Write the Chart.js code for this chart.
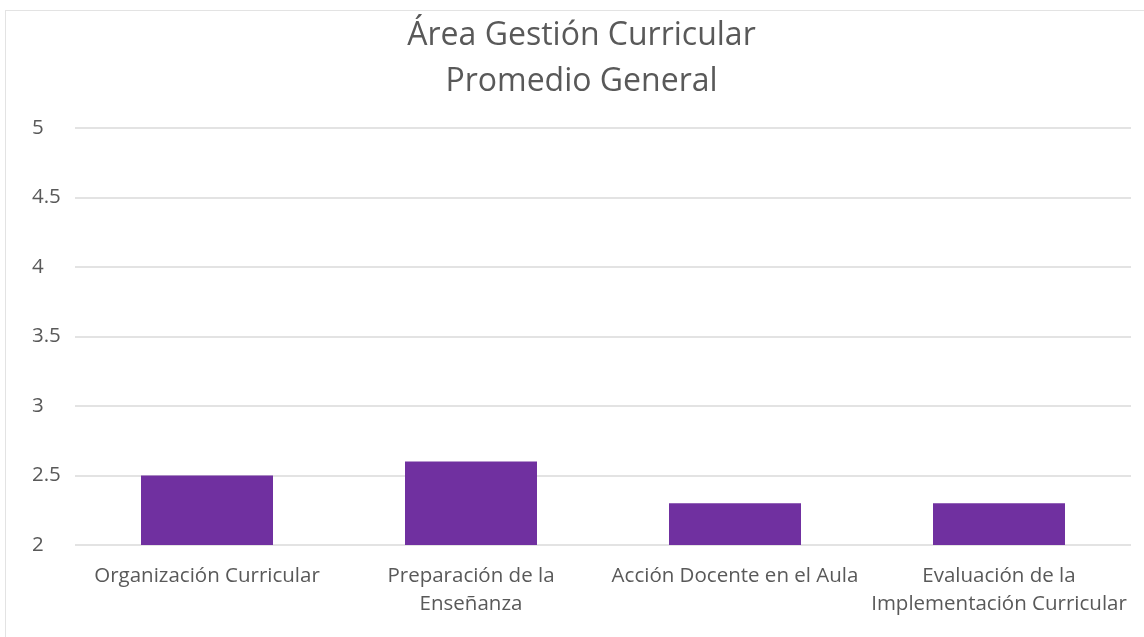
<!DOCTYPE html>
<html lang="es">
<head>
<meta charset="utf-8">
<title>Área Gestión Curricular</title>
<script src="https://cdn.jsdelivr.net/npm/chart.js@4/dist/chart.umd.min.js"></script>
<style>
  html, body { margin: 0; padding: 0; background: #fff; }
  #wrap { position: relative; width: 1144px; height: 637px; overflow: hidden; }
  #frame {
    position: absolute; left: 5px; top: 10px; width: 1200px; height: 700px;
    border-left: 1px solid #e3e3e3; border-top: 1px solid #e3e3e3;
  }
  #chart { position: absolute; left: 0; top: 0; }
</style>
</head>
<body>
<div id="wrap">
  <div id="frame"></div>
  <canvas id="chart" width="1144" height="637"></canvas>
</div>
<script>
"use strict";

///////////////////////////////////////
// Data

const categories = [
  ["Organización Curricular"],
  ["Preparación de la", "Enseñanza"],
  ["Acción Docente en el Aula"],
  ["Evaluación de la", "Implementación Curricular"],
];

const promedio = [2.5, 2.6, 2.3, 2.3];

const titleLines = ["Área Gestión Curricular", "Promedio General"];

const yMin = 2;
const yMax = 5;
const yStep = 0.5;

///////////////////////////////////////
// Chart config

const textColor = "#595959";
const gridColor = "#e3e3e3";
const barColor = "#7030a0";

const config = {
  type: "bar",
  data: {
    labels: categories,
    datasets: [
      {
        label: "Promedio",
        data: promedio,
        backgroundColor: barColor,
        borderWidth: 0,
        categoryPercentage: 1,
        barPercentage: 0.5,
      },
    ],
  },
  options: {
    responsive: false,
    animation: false,
    layout: {
      padding: { left: 32, right: 13, top: 0, bottom: 0 },
    },
    plugins: {
      legend: { display: false },
      tooltip: { enabled: false },
      title: {
        display: true,
        text: titleLines,
        color: textColor,
        font: { family: "'Open Sans', sans-serif", size: 32, weight: "normal", lineHeight: 1.4375 },
        padding: { top: 13, bottom: 23 },
      },
    },
    scales: {
      x: {
        grid: { display: false },
        border: { display: false },
        ticks: {
          color: textColor,
          font: { family: "'Open Sans', sans-serif", size: 20.5, lineHeight: 1.366 },
          maxRotation: 0,
          autoSkip: false,
          padding: 9,
        },
        afterFit: function (scale) {
          scale.height = 92;
        },
      },
      y: {
        min: yMin,
        max: yMax,
        grid: { color: gridColor, lineWidth: 2, drawTicks: false },
        border: { display: false },
        ticks: {
          stepSize: yStep,
          color: textColor,
          crossAlign: "far",
          font: { family: "'Open Sans', sans-serif", size: 20.5 },
          callback: function (value) {
            return String(value);
          },
        },
        afterFit: function (scale) {
          scale.width = 43;
        },
      },
    },
  },
};

///////////////////////////////////////
// Chart display

const chartEl = document.getElementById("chart");
const chart = new Chart(chartEl, config);
</script>
</body>
</html>
